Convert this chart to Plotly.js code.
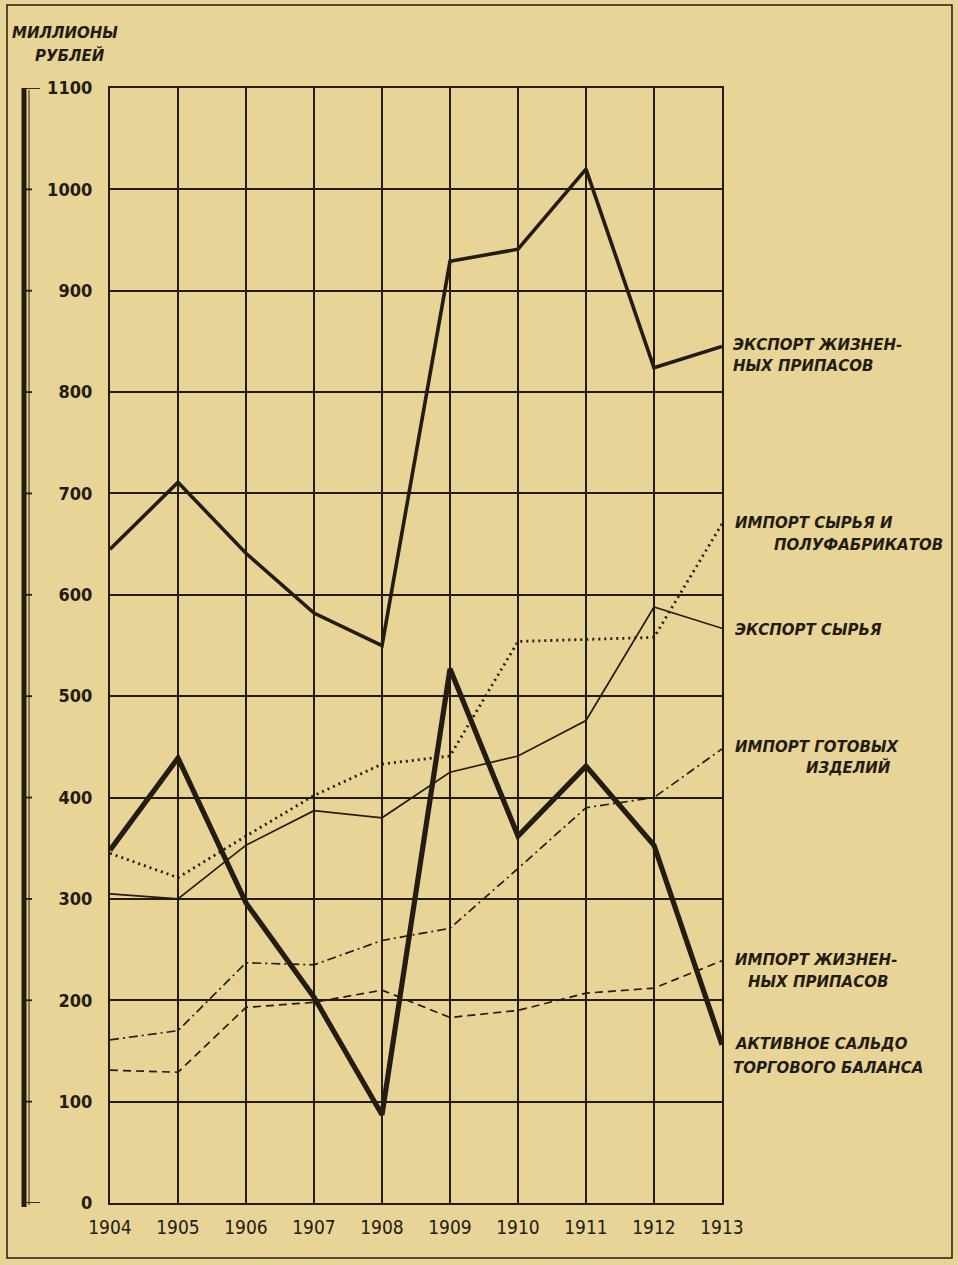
<!DOCTYPE html>
<html><head><meta charset="utf-8">
<script src="https://cdn.plot.ly/plotly-3.0.1.min.js"></script>
<style>body{margin:0;background:#e8d496}</style>
</head><body><div id="chart" style="width:958px;height:1265px"></div>
<script>
const years = [1904,1905,1906,1907,1908,1909,1910,1911,1912,1913];
const exportFood      = [645,711,641,582,550,929,941,1020,824,845];
const exportRaw       = [305,300,353,387,380,425,441,476,588,567];
const importRaw       = [345,321,362,402,433,441,554,556,558,670];
const importFinished  = [161,170,237,235,259,271,330,390,400,448];
const importFood      = [131,129,193,198,210,183,190,207,212,239];
const tradeBalance    = [348,439,296,203,87,527,362,431,353,156];
const yTicks = [0,100,200,300,400,500,600,700,800,900,1000,1100];

const ink = '#221c12';
const traces = [
  {y: importFood, name:'Импорт жизненных припасов', line:{color:ink,width:1.7,dash:'8px,5px'}},
  {y: importFinished, name:'Импорт готовых изделий', line:{color:ink,width:1.7,dash:'9px,4px,2px,4px'}},
  {y: importRaw, name:'Импорт сырья и полуфабрикатов', line:{color:ink,width:2.8,dash:'2px,4px'}},
  {y: exportRaw, name:'Экспорт сырья', line:{color:ink,width:1.7}},
  {y: exportFood, name:'Экспорт жизненных припасов', line:{color:ink,width:3.6}},
  {y: tradeBalance, name:'Активное сальдо торгового баланса', line:{color:ink,width:5.2}}
].map(t => Object.assign({x: years, type:'scatter', mode:'lines', hoverinfo:'skip'}, t));

const labFont = {family:'DejaVu Sans', size:15, color:ink, weight:'bold', style:'italic'};
function lab(text, x, y) {
  return {text:text, xref:'paper', yref:'paper', x:x, y:y, xanchor:'left', yanchor:'middle',
          showarrow:false, font:labFont};
}
// paper coords: x from 110..722 px, y from 1203 (0) .. 88 (1)
const px = v => (v-110)/612;
const py = v => (1203-v)/1115;
const annotations = [
  lab('ЭКСПОРТ ЖИЗНЕН-', px(731), py(345)),
  lab('НЫХ ПРИПАСОВ', px(731), py(366)),
  lab('ИМПОРТ СЫРЬЯ И', px(733), py(523)),
  lab('ПОЛУФАБРИКАТОВ', px(772), py(545)),
  lab('ЭКСПОРТ СЫРЬЯ', px(733), py(630)),
  lab('ИМПОРТ ГОТОВЫХ', px(733), py(747)),
  lab('ИЗДЕЛИЙ', px(804), py(767)),
  lab('ИМПОРТ ЖИЗНЕН-', px(733), py(960)),
  lab('НЫХ ПРИПАСОВ', px(746), py(982)),
  lab('АКТИВНОЕ САЛЬДО', px(733), py(1044)),
  lab('ТОРГОВОГО БАЛАНСА', px(731), py(1068)),
  {text:'МИЛЛИОНЫ', xref:'paper', yref:'paper', x:px(10), y:py(33), xanchor:'left', yanchor:'middle',
   showarrow:false, font:labFont},
  {text:'РУБЛЕЙ', xref:'paper', yref:'paper', x:px(33), y:py(56), xanchor:'left', yanchor:'middle',
   showarrow:false, font:labFont}
];

const shapes = [
  {type:'line', xref:'paper', yref:'paper', x0:px(24), x1:px(24), y0:py(1207), y1:py(88), line:{color:ink,width:5}},
  {type:'line', xref:'paper', yref:'paper', x0:px(29), x1:px(29), y0:py(1205), y1:py(90), line:{color:ink,width:1}},
  {type:'rect', xref:'paper', yref:'paper', x0:px(7), x1:px(952), y0:py(1258), y1:py(5), line:{color:ink,width:1.5}}
];
yTicks.forEach(v => shapes.push({type:'line', xref:'paper', yref:'y', x0:px(24), x1:px(v===1100||v===0?40:32), y0:v, y1:v, line:{color:ink,width:1.8}}));

const layout = {
  width:958, height:1265,
  margin:{l:110, r:236, t:88, b:62},
  paper_bgcolor:'#e8d496', plot_bgcolor:'#e8d496',
  showlegend:false,
  font:{family:'DejaVu Sans Condensed, DejaVu Sans', color:ink},
  xaxis:{range:[1904,1913], tickvals:years, ticktext:years.map(String), showgrid:true, gridcolor:ink, gridwidth:2,
         zeroline:false, showline:true, linecolor:ink, linewidth:2.2, mirror:true,
         ticks:'outside', ticklen:6, tickcolor:'rgba(0,0,0,0)',
         tickfont:{size:19, family:'DejaVu Sans Condensed, DejaVu Sans', color:ink}},
  yaxis:{range:[0,1100], tickvals:yTicks, showgrid:true, gridcolor:ink, gridwidth:2, zeroline:false,
         showline:true, linecolor:ink, linewidth:2.2, mirror:true,
         ticks:'outside', ticklen:12, tickcolor:'rgba(0,0,0,0)',
         tickfont:{size:18, family:'DejaVu Sans Condensed, DejaVu Sans', color:ink, weight:'bold'}},
  annotations:annotations, shapes:shapes
};
Plotly.newPlot('chart', traces, layout, {displayModeBar:false, staticPlot:true});
</script></body></html>
